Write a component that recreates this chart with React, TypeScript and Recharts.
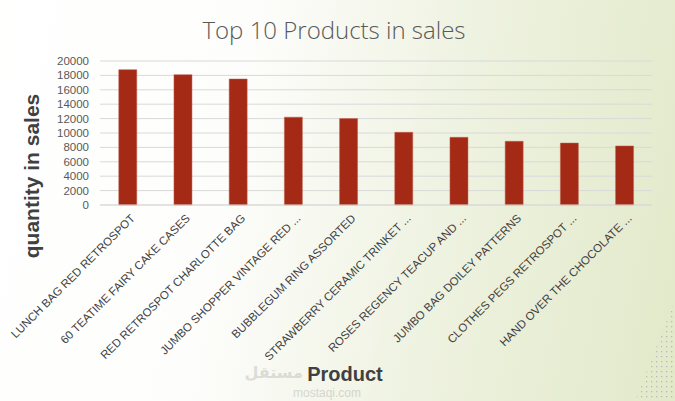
import React from "react";
import { BarChart, Bar, XAxis, YAxis, CartesianGrid } from "recharts";

const products = [
  "LUNCH BAG RED RETROSPOT",
  "60 TEATIME FAIRY CAKE CASES",
  "RED RETROSPOT CHARLOTTE BAG",
  "JUMBO SHOPPER VINTAGE RED ...",
  "BUBBLEGUM RING ASSORTED",
  "STRAWBERRY CERAMIC TRINKET ...",
  "ROSES REGENCY TEACUP AND ...",
  "JUMBO BAG DOILEY PATTERNS",
  "CLOTHES PEGS RETROSPOT ...",
  "HAND OVER THE CHOCOLATE ...",
];
const quantities = [18800, 18100, 17500, 12200, 12000, 10100, 9400, 8850, 8600, 8200];
const yTicks = [0, 2000, 4000, 6000, 8000, 10000, 12000, 14000, 16000, 18000, 20000];

const data = products.map((name, i) => ({ name, qty: quantities[i] }));

const FONT = "'Liberation Sans', Arial, sans-serif";

const XTick = (props: any) => {
  const { x, y, payload } = props;
  return (
    <text
      transform={`translate(${x + 8},${y + 6}) rotate(-45)`}
      textAnchor="end"
      fontSize={11.5}
      fill="#404040"
      fontFamily={FONT}
    >
      {payload.value}
    </text>
  );
};

export default function App() {
  return (
    <div
      style={{
        position: "absolute",
        left: 0,
        top: 0,
        width: 675,
        height: 401,
        overflow: "hidden",
        background:
          "linear-gradient(100deg, #ffffff 0%, #fdfdfb 35%, #eef2e0 65%, #e2e9c9 100%)",
      }}
    >
      <svg
        width={675}
        height={401}
        style={{ position: "absolute", left: 0, top: 0, pointerEvents: "none" }}
      >
        <defs>
          <pattern id="dots" width="5" height="5" patternUnits="userSpaceOnUse">
            <rect x="1" y="1" width="1.3" height="1.3" fill="#a9b0b8" />
          </pattern>
        </defs>
        <polygon points="675,300 675,401 635,401" fill="url(#dots)" opacity={0.8} />
      </svg>
      <BarChart
        width={675}
        height={401}
        data={data}
        margin={{ top: 61, right: 23, left: 0, bottom: 0 }}
        barCategoryGap="34%"
      >
        <CartesianGrid vertical={false} stroke="#d9d9d9" strokeWidth={1} />
        <XAxis
          dataKey="name"
          interval={0}
          height={196}
          tickLine={false}
          axisLine={{ stroke: "#d9d9d9" }}
          tick={<XTick />}
        />
        <YAxis
          width={100}
          domain={[0, 20000]}
          ticks={yTicks}
          interval={0}
          tickLine={false}
          axisLine={false}
          tickMargin={5}
          tick={{ fontSize: 11.5, fill: "#595959", fontFamily: FONT }}
        />
        <Bar dataKey="qty" fill="#a42a16" stroke="#c0604e" strokeWidth={0.5} isAnimationActive={false} />
      </BarChart>
      <svg
        width={675}
        height={401}
        style={{ position: "absolute", left: 0, top: 0, pointerEvents: "none" }}
      >
        <text
          x={334}
          y={39}
          textAnchor="middle"
          fontSize={24}
          fill="#595959"
          fontFamily="'Open Sans', sans-serif"
          fontWeight={300}
        >
          Top 10 Products in sales
        </text>
        <text
          transform="translate(39,176) rotate(-90)"
          textAnchor="middle"
          fontSize={21}
          fontWeight={700}
          fill="#404040"
          fontFamily={FONT}
        >
          quantity in sales
        </text>
        <text
          x={345}
          y={381}
          textAnchor="middle"
          fontSize={20}
          fontWeight={700}
          fill="#404040"
          fontFamily={FONT}
        >
          Product
        </text>
        <text
          x={303}
          y={378}
          textAnchor="end"
          fontSize={16}
          fontWeight={700}
          fill="#9a9a9a"
          opacity={0.3}
          fontFamily="'DejaVu Sans', sans-serif"
        >
          مستقل
        </text>
        <text
          x={327}
          y={397}
          textAnchor="middle"
          fontSize={12}
          fill="#9a9a9a"
          opacity={0.35}
          fontFamily={FONT}
        >
          mostaqi.com
        </text>
      </svg>
    </div>
  );
}
